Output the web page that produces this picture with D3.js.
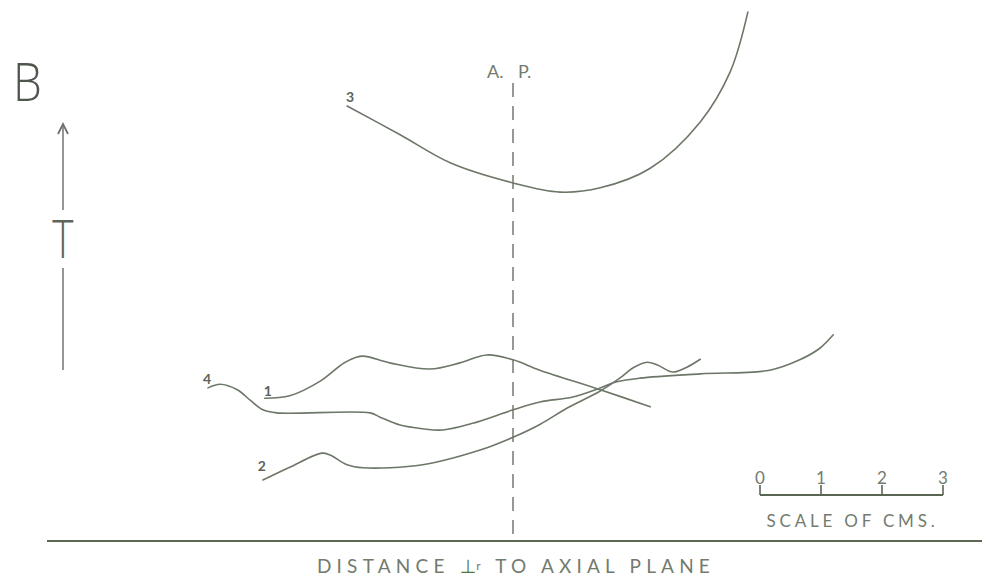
<!DOCTYPE html>
<html>
<head>
<meta charset="utf-8">
<script src="https://cdn.jsdelivr.net/npm/d3@7"></script>
<style>
  html, body { margin: 0; padding: 0; background: #ffffff; }
  svg { display: block; }
</style>
</head>
<body>
<script>
// Profiles of T against distance perpendicular to the axial plane (cm).
// Each point: [distance from axial plane in cm, T in plot units]
const curve1 = [[-4.07,2.34],[-3.66,2.38],[-3.16,2.62],[-2.75,2.93],[-2.48,3.03],[-2.02,2.92],
  [-1.36,2.82],[-0.87,2.92],[-0.43,3.05],[0,2.97],[0.44,2.80],[1.43,2.48],[2.25,2.20]];
const curve2 = [[-4.10,1.00],[-3.66,1.21],[-3.13,1.44],[-3.00,1.41],[-2.72,1.25],[-2.46,1.20],
  [-1.48,1.25],[-0.54,1.49],[0,1.70],[0.44,1.91],[0.89,2.18],[1.43,2.46],[1.75,2.67],
  [1.97,2.84],[2.20,2.93],[2.36,2.89],[2.62,2.77],[2.85,2.85],[3.07,2.98]];
const curve3 = [[-2.72,7.13],[-1.85,6.66],[-1.03,6.20],[0,5.87],[0.77,5.72],[1.43,5.79],
  [2.25,6.11],[3.07,6.87],[3.56,7.69],[3.85,8.67]];
const curve4 = [[-5.00,2.51],[-4.80,2.57],[-4.52,2.48],[-4.31,2.31],[-4.10,2.15],[-3.87,2.10],
  [-2.34,2.10],[-2.18,2.03],[-1.85,1.90],[-1.48,1.84],[-1.15,1.82],[-0.66,1.93],[0,2.15],
  [0.44,2.28],[0.98,2.36],[1.43,2.51],[1.70,2.61],[2.08,2.67],[3.07,2.74],[4.21,2.80],
  [4.70,2.97],[5.03,3.16],[5.25,3.38]];
const curveLabels = ["1", "2", "3", "4"];
const scaleTicks = [0, 1, 2, 3];
const scaleTitle = "SCALE OF CMS.";
const xTitle = ["DISTANCE ", "\u22A5", "r", " TO AXIAL PLANE"];
const panelLabel = "B";
const yLabel = "T";

const W = 991, H = 584;
const ink = "#6c7768";
const textInk = "#737b6f";

const svg = d3.select("body").append("svg").attr("width", W).attr("height", H);

// 61 px per centimetre on both axes
const x = d3.scaleLinear().domain([0, 1]).range([513, 574]);
const y = d3.scaleLinear().domain([0, 1]).range([541, 480]);

// baseline axis
svg.append("line")
  .attr("x1", 47).attr("x2", 982).attr("y1", y(0)).attr("y2", y(0))
  .attr("stroke", "#5c6856").attr("stroke-width", 2.2);

// axial plane trace
svg.append("line")
  .attr("x1", x(0)).attr("x2", x(0)).attr("y1", 83).attr("y2", y(0))
  .attr("stroke", "#6d6d6a").attr("stroke-width", 1.4)
  .attr("stroke-dasharray", "14,9");

svg.append("text").attr("x", x(0) - 26).attr("y", 78).text("A.")
  .attr("font-family", "Lato, 'DejaVu Sans', sans-serif").attr("font-size", 18)
  .attr("fill", textInk);
svg.append("text").attr("x", x(0) + 5).attr("y", 78).text("P.")
  .attr("font-family", "Lato, 'DejaVu Sans', sans-serif").attr("font-size", 18)
  .attr("fill", textInk);

// curves
const line = d3.line().x(d => x(d[0])).y(d => y(d[1])).curve(d3.curveCatmullRom.alpha(0.5));
const curves = [curve1, curve2, curve3, curve4];
svg.append("g").selectAll("path").data(curves).join("path")
  .attr("d", line)
  .attr("fill", "none")
  .attr("stroke", ink)
  .attr("stroke-width", 1.6)
  .attr("stroke-linecap", "round");

// curve numbers at the start of each curve
const labelOffsets = [[3, -2], [-1, -9], [3, -4], [-1, -4]];
svg.append("g").selectAll("text").data(curves).join("text")
  .attr("x", (d, i) => x(d[0][0]) + labelOffsets[i][0])
  .attr("y", (d, i) => y(d[0][1]) + labelOffsets[i][1])
  .attr("text-anchor", "middle")
  .attr("font-family", "Lato, 'DejaVu Sans', sans-serif")
  .attr("font-size", 14).attr("font-weight", 700)
  .attr("fill", "#5d6459")
  .text((d, i) => curveLabels[i]);

// panel letter
svg.append("text").attr("x", 13).attr("y", 101).text(panelLabel)
  .attr("font-family", "'Open Sans', 'DejaVu Sans', sans-serif")
  .attr("font-size", 54).attr("font-weight", 300)
  .attr("transform", "translate(13,101) scale(0.85,1) translate(-13,-101)")
  .attr("fill", "#4f564d");

// T arrow
const ax = 63;
svg.append("line").attr("x1", ax).attr("x2", ax).attr("y1", 124).attr("y2", 210)
  .attr("stroke", "#7b7b78").attr("stroke-width", 1.6);
svg.append("path").attr("d", `M${ax - 5},${134} L${ax},${124} L${ax + 5},${134}`)
  .attr("fill", "none").attr("stroke", "#6f6f6c").attr("stroke-width", 1.8);
svg.append("line").attr("x1", ax).attr("x2", ax).attr("y1", 268).attr("y2", 370)
  .attr("stroke", "#7b7b78").attr("stroke-width", 1.6);
svg.append("text").attr("x", ax).attr("y", 258).text(yLabel)
  .attr("text-anchor", "middle")
  .attr("font-family", "'Open Sans', 'DejaVu Sans', sans-serif")
  .attr("font-size", 54).attr("font-weight", 300)
  .attr("transform", `translate(${ax},258) scale(0.75,1) translate(${-ax},-258)`)
  .attr("fill", "#5f645c");

// scale bar
const sb = d3.scaleLinear().domain([0, 3]).range([760, 943]);
const barY = 495;
const gScale = svg.append("g");
gScale.append("line").attr("x1", sb(0)).attr("x2", sb(3)).attr("y1", barY).attr("y2", barY)
  .attr("stroke", "#596653").attr("stroke-width", 2);
gScale.selectAll("line.tick").data(scaleTicks).join("line").attr("class", "tick")
  .attr("x1", d => sb(d)).attr("x2", d => sb(d)).attr("y1", barY - 10).attr("y2", barY)
  .attr("stroke", "#596653").attr("stroke-width", 1.6);
gScale.selectAll("text.num").data(scaleTicks).join("text").attr("class", "num")
  .attr("x", d => sb(d)).attr("y", 484).attr("text-anchor", "middle")
  .attr("font-family", "Lato, 'DejaVu Sans', sans-serif").attr("font-size", 17)
  .attr("fill", textInk).text(d => d);
gScale.append("text").attr("x", (sb(0) + sb(3)) / 2 + 1).attr("y", 527)
  .attr("text-anchor", "middle")
  .attr("font-family", "Lato, 'DejaVu Sans', sans-serif").attr("font-size", 17)
  .attr("letter-spacing", 3.8)
  .attr("fill", textInk).text(scaleTitle);

// axis title
const t = svg.append("text").attr("x", 516).attr("y", 573).attr("text-anchor", "middle")
  .attr("font-family", "Lato, 'DejaVu Sans', sans-serif").attr("font-size", 19)
  .attr("letter-spacing", 5.2).attr("fill", textInk);
t.append("tspan").text(xTitle[0]);
t.append("tspan").text(xTitle[1]).attr("fill", "#4f7a3c").attr("letter-spacing", 0);
t.append("tspan").text(xTitle[2]).attr("font-size", 12).attr("dy", -3);
t.append("tspan").text(xTitle[3]).attr("dy", 3);
</script>
</body>
</html>
